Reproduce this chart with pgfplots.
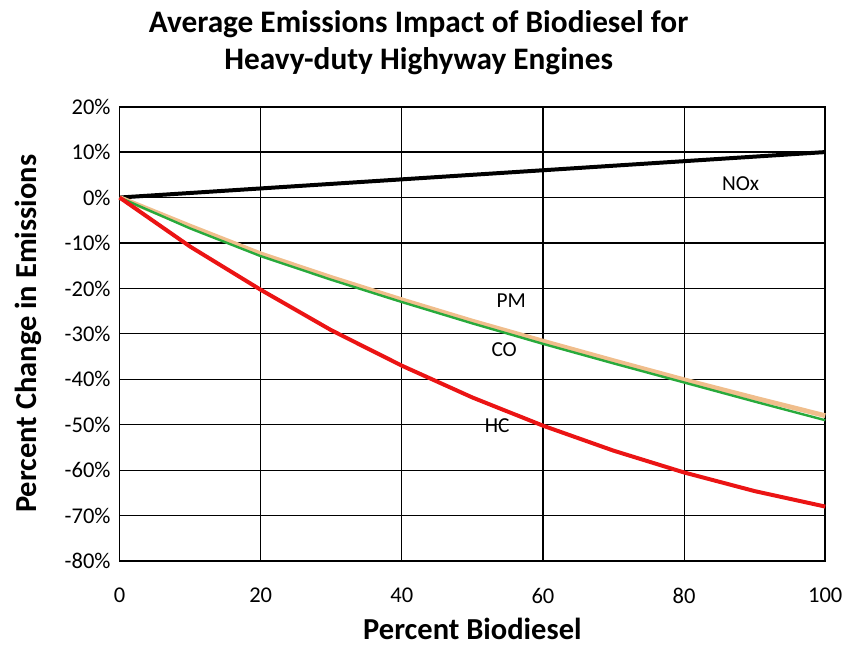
\documentclass[border=0pt]{standalone}
\usepackage{pgfplots}
\pgfplotsset{compat=1.18}
\usepackage{fontspec}
\setmainfont{Carlito}
\begin{document}
\begin{tikzpicture}
\begin{axis}[
  scale only axis,
  width=354pt, height=228pt,
  xmin=0, xmax=100, ymin=-80, ymax=20,
  xtick={0,20,40,60,80,100},
  ytick={-80,-70,-60,-50,-40,-30,-20,-10,0,10,20},
  yticklabel={\pgfmathprintnumber{\tick}\%},
  /pgf/number format/assume math mode=true,
  grid=major,
  major grid style={black, line width=0.6pt},
  axis line style={black, line width=0.9pt},
  tick style={draw=none},
  ticklabel style={font=\fontsize{11.3}{13}\selectfont},
  xticklabel style={yshift=-10pt},
  yticklabel style={xshift=-1pt},
  clip=false,
]
\addplot[black, line width=2pt] coordinates {(0,0) (100,10)};
\addplot[color={rgb,255:red,240;green,190;blue,140}, line width=2.4pt] coordinates {
(0,0) (10,-6.3) (20,-12.4) (30,-17.6) (40,-22.5) (50,-27.2) (60,-31.6) (70,-35.9) (80,-40.1) (90,-44.1) (100,-48.0)};
\addplot[color={rgb,255:red,40;green,170;blue,60}, line width=1.2pt] coordinates {
(0,0) (10,-6.8) (20,-12.9) (30,-18.1) (40,-23.0) (50,-27.7) (60,-32.2) (70,-36.5) (80,-40.7) (90,-44.9) (100,-49.0)};
\addplot[color={rgb,255:red,235;green,20;blue,20}, line width=2pt] coordinates {
(0,0) (10,-10.8) (20,-20.3) (30,-29.2) (40,-37.0) (50,-44.0) (60,-50.2) (70,-55.7) (80,-60.5) (90,-64.6) (100,-68.0)};
\node[font=\fontsize{10.7}{12}\selectfont] at (axis cs:88,3) {NOx};
\node[font=\fontsize{10.7}{12}\selectfont] at (axis cs:55.5,-22.6) {PM};
\node[font=\fontsize{10.7}{12}\selectfont] at (axis cs:54.5,-33.5) {CO};
\node[font=\fontsize{10.7}{12}\selectfont] at (axis cs:53.5,-50.3) {HC};
\node[font=\fontsize{15.7}{18.5}\selectfont\bfseries, align=center] at ([xshift=-27pt,yshift=32pt]rel axis cs:0.5,1) {Average Emissions Impact of Biodiesel for\\Heavy-duty Highyway Engines};
\node[font=\fontsize{15.3}{17}\selectfont\bfseries] at ([yshift=-34pt]rel axis cs:0.5,0) {Percent Biodiesel};
\node[font=\fontsize{15.3}{17}\selectfont\bfseries, rotate=90] at ([xshift=-46pt]rel axis cs:0,0.5) {Percent Change in Emissions};
\path ([xshift=-60pt,yshift=-43pt]rel axis cs:0,0) ([xshift=10.5pt,yshift=53.5pt]rel axis cs:1,1);
\end{axis}
\end{tikzpicture}
\end{document}
